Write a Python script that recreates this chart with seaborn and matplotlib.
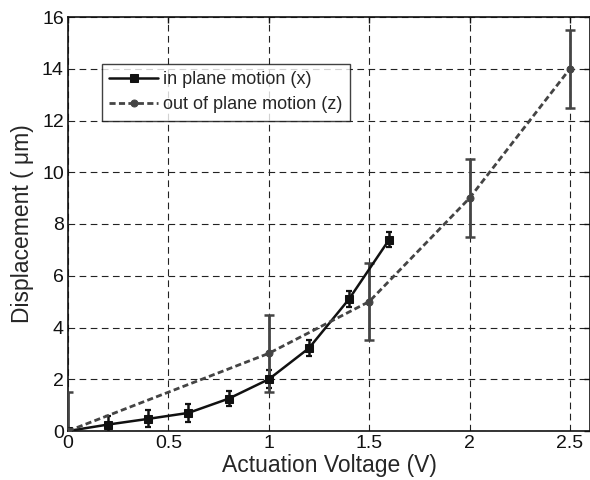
import numpy as np
import matplotlib
matplotlib.use('Agg')
import matplotlib.pyplot as plt
import seaborn as sns
import pandas as pd

# Data
x_volt = [0, 0.2, 0.4, 0.6, 0.8, 1.0, 1.2, 1.4, 1.6]
x_disp = [0, 0.25, 0.47, 0.7, 1.25, 2.0, 3.2, 5.1, 7.4]
x_err = [0.05, 0.33, 0.33, 0.35, 0.3, 0.35, 0.3, 0.3, 0.3]

z_volt = [0, 1.0, 1.5, 2.0, 2.5]
z_disp = [0, 3.0, 5.0, 9.0, 14.0]
z_err = [1.5, 1.5, 1.5, 1.5, 1.5]

labels = ['in plane motion (x)', 'out of plane motion (z)']

df_x = pd.DataFrame({'volt': x_volt, 'disp': x_disp})
df_z = pd.DataFrame({'volt': z_volt, 'disp': z_disp})

sns.set_style('white')
plt.rcParams['font.family'] = ['Liberation Sans', 'DejaVu Sans']

fig = plt.figure(figsize=(5.9, 4.8), dpi=100)
ax = fig.add_axes([68 / 590, 1 - 431 / 480, 1 - 68 / 590, (431 - 17) / 480])

col_x = '#111111'
col_z = '#444444'

# Error bars
ax.errorbar(x_volt, x_disp, yerr=x_err, fmt='none', ecolor=col_x, elinewidth=1.8,
            capsize=2.2, capthick=1.6, zorder=3)
ax.errorbar(z_volt, z_disp, yerr=z_err, fmt='none', ecolor=col_z, elinewidth=2,
            capsize=3.8, capthick=1.8, zorder=3)

# Lines
sns.lineplot(data=df_x, x='volt', y='disp', ax=ax, color=col_x, lw=1.8,
             marker='s', markersize=6, markeredgecolor=col_x, label=labels[0], zorder=4)
sns.lineplot(data=df_z, x='volt', y='disp', ax=ax, color=col_z, lw=2,
             linestyle=(0, (2.2, 1.2)), marker='o', markersize=5,
             markeredgecolor=col_z, label=labels[1], zorder=4)

ax.set_xlim(0, 2.6)
ax.set_ylim(0, 16)
ax.set_xticks([0, 0.5, 1, 1.5, 2, 2.5])
ax.set_xticklabels(['0', '0.5', '1', '1.5', '2', '2.5'])
ax.set_yticks(range(0, 17, 2))

ax.grid(True, color='#222222', linestyle=(0, (6, 4)), linewidth=0.8)
ax.set_axisbelow(True)
for s in ax.spines.values():
    s.set_color('#111111')
    s.set_linewidth(1.2)

ax.tick_params(direction='in', length=4, width=1, labelsize=14, pad=3,
               top=True, right=True, colors='#111111')

ax.set_xlabel('Actuation Voltage (V)', fontsize=16.5, labelpad=1)
ax.set_ylabel('Displacement ( \u03bcm)', fontsize=16.5, labelpad=6)

leg = ax.legend(loc='upper left', bbox_to_anchor=(34 / 522, 1 - 47 / 414),
                fontsize=13, frameon=True, fancybox=False, edgecolor='#111111',
                handlelength=2.7, handletextpad=0.3, borderpad=0.4,
                labelspacing=0.45, borderaxespad=0, numpoints=1)
leg.get_frame().set_linewidth(1)

fig.savefig('out.png', dpi=100)
